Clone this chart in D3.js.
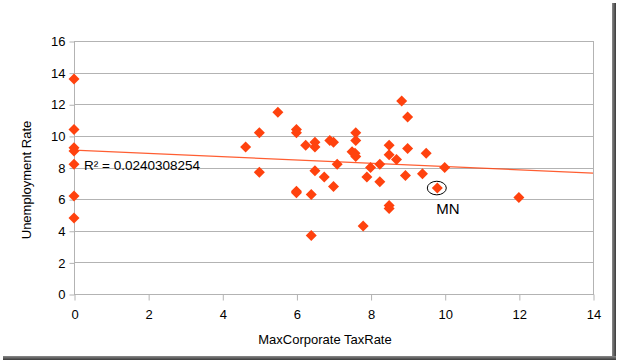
<!DOCTYPE html>
<html>
<head>
<meta charset="utf-8">
<script src="https://cdn.jsdelivr.net/npm/d3@7"></script>
<style>
  body { margin: 0; background: #fff; }
  svg text { font-family: "Liberation Sans", Arial, sans-serif; fill: #000; }
</style>
</head>
<body>
<div id="svg-container"></div>
<script>
"use strict";
// max corporate tax rate (%) per state
const taxRate = [
  0, 0, 0, 0, 0, 0, 0,
  4.63, 5, 5, 5.5, 6, 6, 6, 6, 6.25, 6.4, 6.4, 6.5, 6.5, 6.5,
  6.75, 6.9, 7, 7, 7.1, 7.5, 7.6, 7.6, 7.58, 7.6, 7.8, 7.9, 8,
  8.25, 8.25, 8.5, 8.5, 8.5, 8.5, 8.7, 8.84, 8.94, 9, 9, 9.4, 9.5,
  9.8, 10, 12
];
// unemployment rate (%) per state
const unemployment = [
  13.6, 10.4, 9.25, 9.05, 8.2, 6.2, 4.8,
  9.3, 10.2, 7.7, 11.5, 10.4, 10.2, 6.5, 6.4, 9.4, 6.3, 3.7, 9.6, 9.3, 7.8,
  7.4, 9.7, 9.6, 6.8, 8.2, 9.0, 10.2, 9.7, 8.9, 8.7, 4.3, 7.4, 8.0,
  8.2, 7.1, 9.4, 8.8, 5.6, 5.4, 8.5, 12.2, 7.5, 11.2, 9.2, 7.6, 8.9,
  6.7, 8.0, 6.1
];
const xTicks = [0, 2, 4, 6, 8, 10, 12, 14];
const yTicks = [0, 2, 4, 6, 8, 10, 12, 14, 16];
const trendX = [0, 14];
const trendY = [9.1, 7.65];
const rSquaredLabel = "R² = 0.0240308254";
const highlight = { x: 9.8, y: 6.7, label: "MN" };
const xTitle = "MaxCorporate TaxRate";
const yTitle = "Unemployment Rate";

const width = 618, height = 362;
const plot = { left: 74, right: 593, top: 41, bottom: 294 };
const markerColor = "#ff420e";
const gridColor = "#b3b3b3";

const svg = d3.select("#svg-container")
  .append("svg")
  .attr("width", width)
  .attr("height", height);

// drop shadow of the picture frame
const defs = svg.append("defs");
const gradR = defs.append("linearGradient").attr("id", "shR").attr("x1", 0).attr("x2", 1).attr("y1", 0).attr("y2", 0);
gradR.append("stop").attr("offset", "0%").attr("stop-color", "#8a8a8a");
gradR.append("stop").attr("offset", "100%").attr("stop-color", "#3a3a3a");
const gradB = defs.append("linearGradient").attr("id", "shB").attr("x1", 0).attr("x2", 0).attr("y1", 0).attr("y2", 1);
gradB.append("stop").attr("offset", "0%").attr("stop-color", "#8a8a8a");
gradB.append("stop").attr("offset", "100%").attr("stop-color", "#3a3a3a");
svg.append("rect").attr("x", 612).attr("y", 3).attr("width", 4).attr("height", 357).attr("fill", "url(#shR)");
svg.append("rect").attr("x", 3).attr("y", 356).attr("width", 613).attr("height", 4).attr("fill", "url(#shB)");

const x = d3.scaleLinear().domain([0, 14]).range([plot.left, plot.right]);
const y = d3.scaleLinear().domain([0, 16]).range([plot.bottom, plot.top]);

// horizontal grid lines
svg.append("g")
  .selectAll("line")
  .data(yTicks)
  .enter()
  .append("line")
  .attr("x1", plot.left)
  .attr("x2", plot.right)
  .attr("y1", d => Math.round(y(d)) + 0.5)
  .attr("y2", d => Math.round(y(d)) + 0.5)
  .attr("stroke", gridColor)
  .attr("stroke-width", 1);

// plot border
svg.append("rect")
  .attr("x", plot.left + 0.5)
  .attr("y", Math.round(y(16)) + 0.5)
  .attr("width", plot.right - plot.left)
  .attr("height", Math.round(y(0)) - Math.round(y(16)))
  .attr("fill", "none")
  .attr("stroke", gridColor);

const yAxis = svg.append("g")
  .attr("transform", `translate(${plot.left + 0.5},0.5)`)
  .call(d3.axisLeft(y).tickValues(yTicks).tickSize(5).tickPadding(4));
const xAxis = svg.append("g")
  .attr("transform", `translate(0.5,${Math.round(y(0)) + 0.5})`)
  .call(d3.axisBottom(x).tickValues(xTicks).tickSize(6).tickPadding(9));
[yAxis, xAxis].forEach(a => {
  a.select(".domain").remove();
  a.selectAll("line").attr("stroke", gridColor);
  a.selectAll("text")
    .style("font-family", "'Liberation Sans', Arial, sans-serif")
    .style("font-size", "13px")
    .attr("fill", "#000");
});

// trend line
svg.append("line")
  .attr("x1", x(trendX[0]))
  .attr("y1", y(trendY[0]))
  .attr("x2", x(trendX[1]))
  .attr("y2", y(trendY[1]))
  .attr("stroke", markerColor)
  .attr("stroke-opacity", 0.85)
  .attr("stroke-width", 1.2);

// diamonds
const points = taxRate.map((t, i) => ({ x: t, y: unemployment[i] }));
svg.append("g")
  .selectAll("path")
  .data(points)
  .enter()
  .append("path")
  .attr("transform", d => `translate(${x(d.x)},${y(d.y)})`)
  .attr("d", "M0,-5.5L5.5,0L0,5.5L-5.5,0Z")
  .attr("fill", markerColor);

// regression label
svg.append("text")
  .attr("x", x(0) + 10)
  .attr("y", y(8) + 2)
  .style("font-size", "13.5px")
  .text(rSquaredLabel);

// highlighted state
svg.append("ellipse")
  .attr("cx", x(highlight.x) - 0.5)
  .attr("cy", y(highlight.y))
  .attr("rx", 9.5)
  .attr("ry", 6.8)
  .attr("fill", "none")
  .attr("stroke", "#000")
  .attr("stroke-width", 1);
svg.append("text")
  .attr("x", x(highlight.x) - 1)
  .attr("y", y(highlight.y) + 26)
  .style("font-size", "15px")
  .text(highlight.label);

// axis titles
svg.append("text")
  .attr("x", 325)
  .attr("y", 344)
  .attr("text-anchor", "middle")
  .style("font-size", "13px")
  .text(xTitle);
svg.append("text")
  .attr("transform", "translate(30.5,180) rotate(-90)")
  .attr("text-anchor", "middle")
  .style("font-size", "13px")
  .text(yTitle);
</script>
</body>
</html>
